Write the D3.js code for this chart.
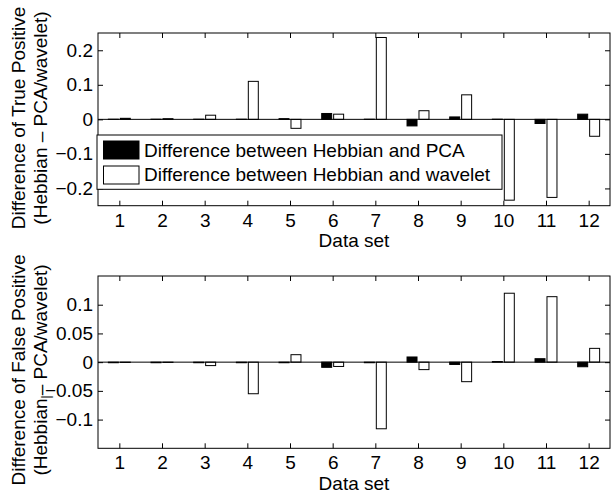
<!DOCTYPE html>
<html>
<head>
<meta charset="utf-8">
<script src="https://cdn.jsdelivr.net/npm/d3@7"></script>
<style>
  html, body { margin: 0; padding: 0; background: #fff; }
  svg { display: block; }
  text { font-family: "Liberation Sans", Arial, Helvetica, sans-serif; fill: #000; }
</style>
</head>
<body>
<svg id="chart" width="611" height="493"></svg>
<script>
// ---------- data ----------
const categories = [1, 2, 3, 4, 5, 6, 7, 8, 9, 10, 11, 12];
const seriesNames = ["Difference between Hebbian and PCA", "Difference between Hebbian and wavelet"];

// True positive differences
const tpPCA     = [0.0005, 0.0005, 0.0005, 0.0005, 0.002, 0.017, 0.0005, -0.019, 0.007, 0.0005, -0.012, 0.015];
const tpWavelet = [0.003, 0.002, 0.012, 0.110, -0.026, 0.015, 0.237, 0.025, 0.071, -0.234, -0.226, -0.049];

// False positive differences
const fpPCA     = [-0.001, -0.001, -0.001, -0.001, -0.001, -0.009, -0.001, 0.009, -0.004, 0.001, 0.006, -0.008];
const fpWavelet = [-0.0005, -0.0005, -0.006, -0.055, 0.013, -0.0075, -0.116, -0.013, -0.034, 0.120, 0.114, 0.024];

const tpTicks = [-0.2, -0.1, 0, 0.1, 0.2];
const tpTickLabels = ["\u22120.2", "\u22120.1", "0", "0.1", "0.2"];
const fpTicks = [-0.1, -0.05, 0, 0.05, 0.1];
const fpTickLabels = ["\u22120.1", "\u22120.05", "0", "0.05", "0.1"];

const xLabel = "Data set";

// ---------- drawing ----------
const svg = d3.select("#chart");
const FONT = 19;

function panel(cfg) {
  const { top, bottom, left, right, yDomain, ticks, tickLabels, pca, wav, labelLines, labelCenterY } = cfg;
  const x = d3.scaleLinear().domain([0.5, 12.5]).range([left, right]);
  const y = d3.scaleLinear().domain(yDomain).range([bottom, top]);
  const g = svg.append("g");

  // white background of axes
  g.append("rect").attr("x", left).attr("y", top).attr("width", right - left).attr("height", bottom - top)
    .attr("fill", "#fff");

  const barW = 0.234, off = 0.14;
  const bars = [];
  categories.forEach((c, i) => {
    bars.push({ c, v: pca[i], s: 0 });
    bars.push({ c, v: wav[i], s: 1 });
  });
  const bw = x(barW) - x(0);
  g.selectAll("rect.bar").data(bars).join("rect")
    .attr("class", "bar")
    .attr("x", d => x(d.c + (d.s === 0 ? -off : off)) - bw / 2)
    .attr("width", bw)
    .attr("y", d => Math.min(y(d.v), y(0)))
    .attr("height", d => Math.abs(y(d.v) - y(0)))
    .attr("fill", d => d.s === 0 ? "#000" : "#fff")
    .attr("stroke", "#000")
    .attr("stroke-width", 1);

  // baseline
  g.append("line").attr("x1", left).attr("x2", right).attr("y1", y(0)).attr("y2", y(0))
    .attr("stroke", "#000").attr("stroke-width", 1);

  // axes
  const fmt = d => tickLabels[ticks.indexOf(d)];
  const ax = g.append("g").attr("transform", `translate(0,${bottom})`)
    .call(d3.axisBottom(x).tickValues(categories).tickSizeInner(-5).tickSizeOuter(0).tickPadding(7.5));
  const axT = g.append("g").attr("transform", `translate(0,${top})`)
    .call(d3.axisTop(x).tickValues(categories).tickSizeInner(-5).tickSizeOuter(0).tickFormat(""));
  const ay = g.append("g").attr("transform", `translate(${left},0)`)
    .call(d3.axisLeft(y).tickValues(ticks).tickFormat(fmt).tickSizeInner(-5).tickSizeOuter(0).tickPadding(5));
  const ayR = g.append("g").attr("transform", `translate(${right},0)`)
    .call(d3.axisRight(y).tickValues(ticks).tickSizeInner(-5).tickSizeOuter(0).tickFormat(""));
  [ax, axT, ay, ayR].forEach(a => {
    a.select(".domain").remove();
    a.selectAll(".tick line").attr("stroke", "#000");
    a.selectAll("text").attr("font-size", FONT).attr("font-family", null).attr("fill", "#000");
  });

  // box
  g.append("rect").attr("x", left).attr("y", top).attr("width", right - left).attr("height", bottom - top)
    .attr("fill", "none").attr("stroke", "#000").attr("stroke-width", 1);

  // x label
  g.append("text").attr("x", (left + right) / 2).attr("y", bottom + 41.5)
    .attr("text-anchor", "middle").attr("font-size", FONT).text(xLabel);

  // y label (two lines)
  const yl = g.append("text").attr("transform", `translate(24.5,${labelCenterY}) rotate(-90)`)
    .attr("text-anchor", "middle").attr("font-size", FONT);
  labelLines[0].forEach((t, k) => {
    yl.append("tspan").attr("x", 0).attr("dy", 0).text(t);
  });
  const yl2 = g.append("text").attr("transform", `translate(46.5,${labelCenterY}) rotate(-90)`)
    .attr("text-anchor", "middle").attr("font-size", FONT);
  labelLines[1].forEach(part => {
    const ts = yl2.append("tspan").text(part.t);
    if (part.sub) ts.attr("baseline-shift", "-25%").attr("font-size", 12);
  });
  return { x, y, g };
}

const p1 = panel({
  top: 33, bottom: 205.7, left: 98, right: 610, yDomain: [-0.25, 0.25],
  ticks: tpTicks, tickLabels: tpTickLabels, pca: tpPCA, wav: tpWavelet,
  labelLines: [["Difference of True Positive"], [{ t: "(Hebbian \u2013 PCA/wavelet)" }]],
  labelCenterY: 118
});

const p2 = panel({
  top: 276, bottom: 448.3, left: 98, right: 610, yDomain: [-0.15, 0.15],
  ticks: fpTicks, tickLabels: fpTickLabels, pca: fpPCA, wav: fpWavelet,
  labelLines: [["Difference of False Positive"], [{ t: "(Hebbian" }, { t: "|", sub: true }, { t: "\u2013 PCA/wavelet)" }]],
  labelCenterY: 370
});

// legend (top panel)
const lg = svg.append("g");
lg.append("rect").attr("x", 97).attr("y", 135).attr("width", 405).attr("height", 54.3)
  .attr("fill", "#fff").attr("stroke", "#000").attr("stroke-width", 1);
seriesNames.forEach((name, i) => {
  const yy = 141 + i * 25;
  lg.append("rect").attr("x", 103.5).attr("y", yy).attr("width", 35.5).attr("height", 18)
    .attr("fill", i === 0 ? "#000" : "#fff").attr("stroke", "#000").attr("stroke-width", 1);
  lg.append("text").attr("x", 144).attr("y", 156.7 + i * 24.3).attr("font-size", FONT).text(name);
});
</script>
</body>
</html>
